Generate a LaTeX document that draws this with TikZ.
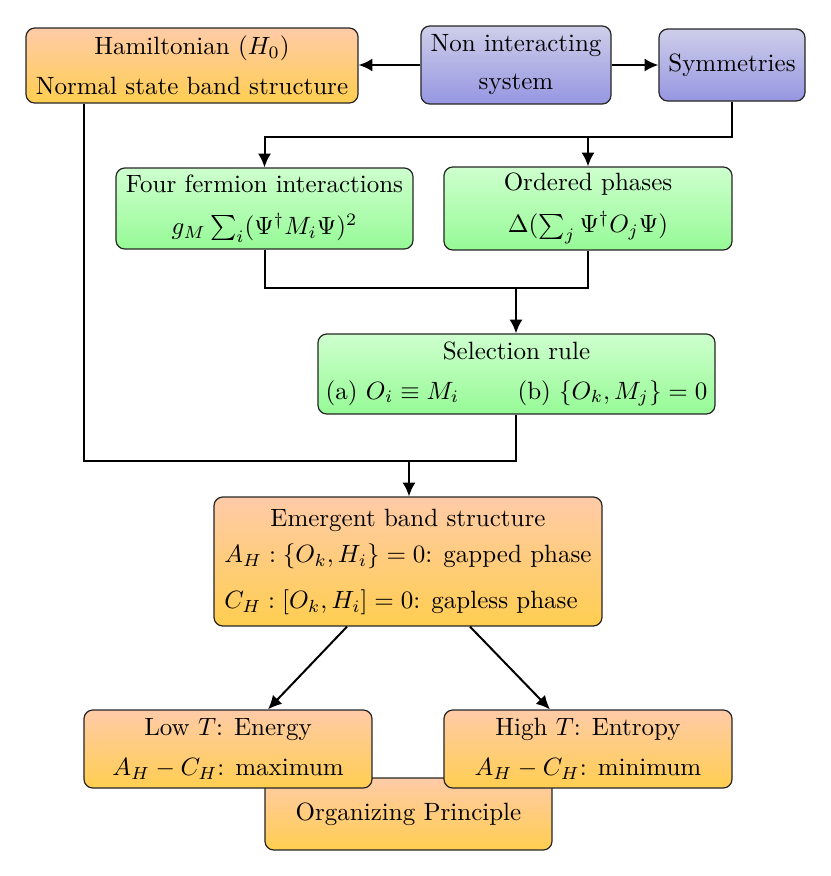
\documentclass[tikz,border=0pt]{standalone}
\usetikzlibrary{arrows.meta,calc}
\definecolor{orT}{RGB}{255,203,168}
\definecolor{orB}{RGB}{255,206,80}
\definecolor{blT}{RGB}{206,206,234}
\definecolor{blB}{RGB}{150,150,226}
\definecolor{grT}{RGB}{206,255,206}
\definecolor{grB}{RGB}{150,250,150}
\begin{document}
\begin{tikzpicture}[x=0.4pt,y=-0.4pt,
  box/.style={draw=black!85, line width=0.5pt, rounded corners=3.5pt, inner sep=0pt, align=center},
  orbox/.style={box, top color=orT, bottom color=orB},
  blbox/.style={box, top color=blT, bottom color=blB},
  grbox/.style={box, top color=grT, bottom color=grB},
  conn/.style={line width=0.8pt},
  arr/.style={conn, -{Latex[length=5.5pt,width=5.2pt]}}]
\useasboundingbox (0,0) rectangle (831,876);

\node[orbox, minimum width=132.8pt, minimum height=30pt] (ham) at (192,65.5)
  {Hamiltonian ($H_0$)\\[4pt] Normal state band structure};
\node[blbox, minimum width=76pt, minimum height=31.2pt] (nonint) at (516,65)
  {Non interacting\\[3.2pt] system};
\node[blbox, minimum width=58.4pt, minimum height=28.8pt] (sym) at (732,65)
  {Symmetries};
\node[grbox, minimum width=118.8pt, minimum height=32.4pt] (four) at (264.5,208.5)
  {Four fermion interactions\\[4.8pt] $g_M\sum_i(\Psi^\dagger M_i\Psi)^2$};
\node[grbox, minimum width=115.2pt, minimum height=33.2pt] (ord) at (588,208.5)
  {Ordered phases\\[4.8pt] $\Delta(\sum_j\Psi^\dagger O_j\Psi)$};
\node[grbox, minimum width=158.8pt, minimum height=32pt] (sel) at (516.5,374)
  {Selection rule\\[4pt] (a) $O_i\equiv M_i$\qquad\ (b) $\{O_k,M_j\}=0$};
\node[orbox, minimum width=155.2pt, minimum height=51.6pt] (emg) at (408,561.5)
  {\begin{tabular}{@{}l@{}}\multicolumn{1}{@{}c@{}}{Emergent band structure}\\[2.4pt]
   $A_H:\{O_k,H_i\}=0$: gapped phase\\[6.4pt]
   $C_H:[O_k,H_i]=0$: gapless phase\end{tabular}};
\node[orbox, minimum width=114.8pt, minimum height=28.8pt] (org) at (408.5,814)
  {Organizing Principle};
\node[orbox, minimum width=115.2pt, minimum height=31.2pt] (low) at (228,749)
  {Low $T$: Energy\\[4pt] $A_H-C_H$: maximum};
\node[orbox, minimum width=115.2pt, minimum height=31.2pt] (high) at (588,749)
  {High $T$: Entropy\\[4pt] $A_H-C_H$: minimum};

\coordinate (b1) at (732,137);
\coordinate (m1) at (516,288);
\coordinate (hx) at (84,0);
\coordinate (m2) at (409,461);

\draw[arr] (nonint.west) -- (ham.east |- nonint.west);
\draw[arr] (nonint.east) -- (sym.west |- nonint.east);
\draw[arr] (sym.south) -- (b1) -| (four.north);
\draw[arr] (ord.north |- b1) -- (ord.north);
\draw[conn] (four.south) |- (m1);
\draw[conn] (ord.south) |- (m1);
\draw[arr] (m1) -- (sel.north -| m1);
\draw[conn] (ham.south -| hx) |- (m2);
\draw[conn] (sel.south -| m1) |- (m2);
\draw[arr] (m2) -- (emg.north -| m2);
\draw[arr] ($(emg.south)+(-61,0)$) -- ($(low.north)+(40,0)$);
\draw[arr] ($(emg.south)+(62,0)$) -- ($(high.north)+(-38,0)$);
\end{tikzpicture}
\end{document}
